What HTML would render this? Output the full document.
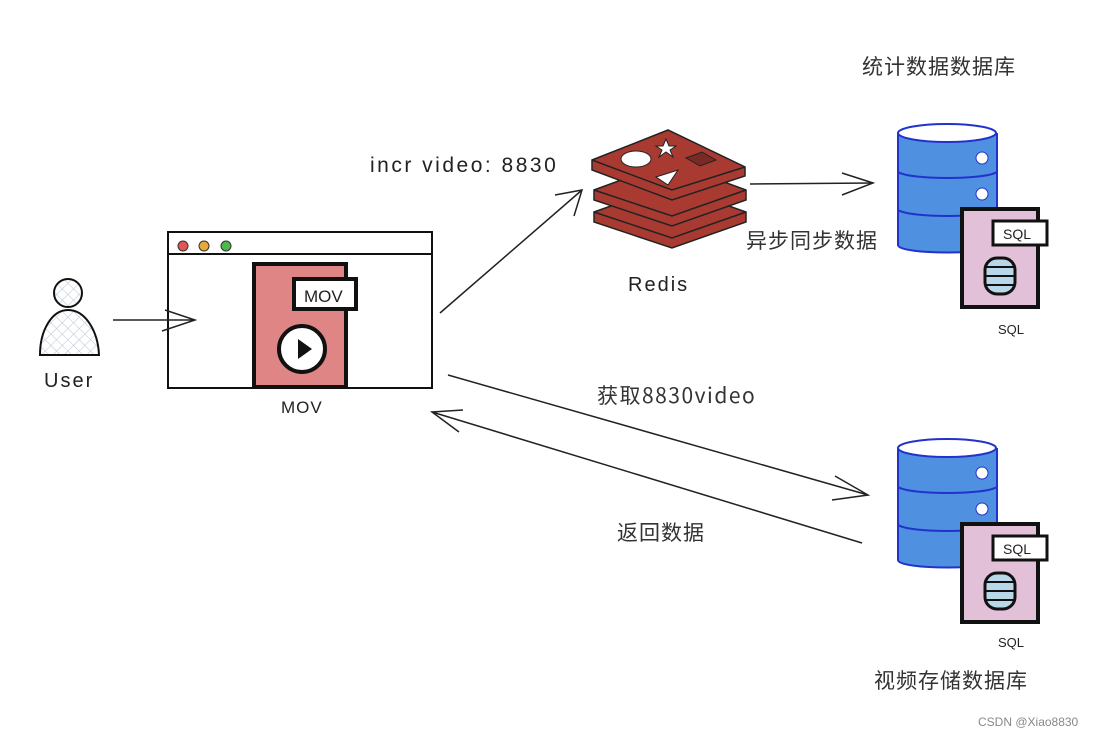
<!DOCTYPE html>
<html><head><meta charset="utf-8"><style>
html,body{margin:0;padding:0;background:#fff;}
svg{display:block;}
.h{font-family:"Liberation Sans","Noto Sans CJK SC",sans-serif;fill:#222;}
.c{font-family:"Noto Sans CJK SC","WenQuanYi Zen Hei",sans-serif;fill:#333;}
</style></head><body>
<svg width="1104" height="736" viewBox="0 0 1104 736" xmlns="http://www.w3.org/2000/svg">
<defs>
<pattern id="hatch" width="8" height="8" patternUnits="userSpaceOnUse" patternTransform="rotate(45)">
<rect width="8" height="8" fill="#fff"/><line x1="0" y1="0" x2="0" y2="8" stroke="#b8c4d4" stroke-width="1"/><line x1="0" y1="0" x2="8" y2="0" stroke="#b8c4d4" stroke-width="1"/>
</pattern>
</defs>
<rect width="1104" height="736" fill="#fff"/>

<!-- User -->
<path d="M40,355 C40,330 52,310 68,310 C86,310 98,332 99,355 Z" fill="url(#hatch)" stroke="#111" stroke-width="2"/>
<circle cx="68" cy="293" r="14" fill="url(#hatch)" stroke="#111" stroke-width="2"/>
<text x="44" y="387" class="h" font-size="20" letter-spacing="2">User</text>

<!-- Browser -->
<rect x="168" y="232" width="264" height="156" fill="#fff" stroke="#111" stroke-width="2"/>
<line x1="168" y1="254" x2="432" y2="254" stroke="#111" stroke-width="2"/>
<circle cx="183" cy="246" r="5" fill="#e05555" stroke="#333"/>
<circle cx="204" cy="246" r="5" fill="#e8a83a" stroke="#333"/>
<circle cx="226" cy="246" r="5" fill="#4cb84c" stroke="#333"/>
<rect x="254" y="264" width="92" height="123" fill="#e08585" stroke="#111" stroke-width="4"/>
<rect x="294" y="279" width="62" height="30" fill="#fff" stroke="#111" stroke-width="4"/>
<text x="304" y="302" class="h" font-size="17">MOV</text>
<circle cx="302" cy="349" r="23" fill="#fff" stroke="#111" stroke-width="4"/>
<path d="M298,339 L312,349 L298,359 Z" fill="#111"/>
<text x="281" y="413" class="h" font-size="17" letter-spacing="1">MOV</text>

<!-- arrow user->browser -->
<g stroke="#222" stroke-width="1.5" fill="none">
<line x1="113" y1="320" x2="195" y2="320"/>
<path d="M165,310 L195,320 L162,331"/>
</g>

<!-- browser->redis -->
<g stroke="#222" stroke-width="1.5" fill="none">
<line x1="440" y1="313" x2="582" y2="190"/>
<path d="M555,195 L582,190 L574,216"/>
</g>
<text x="370" y="172" class="h" font-size="21" letter-spacing="2.5">incr video: 8830</text>

<!-- Redis -->
<g stroke="#222" stroke-width="1.5">
<path d="M594,212 L670,185 L746,212 L746,222 L672,248 L594,222 Z" fill="#a83a32"/>
<path d="M594,212 L672,238 L746,212" fill="none"/>
<path d="M594,190 L670,162 L746,190 L746,200 L672,226 L594,200 Z" fill="#a83a32"/>
<path d="M594,190 L672,216 L746,190" fill="none"/>
<path d="M592,160 L668,130 L745,167 L745,176 L672,200 L592,170 Z" fill="#a83a32"/>
<path d="M592,160 L672,190 L745,167" fill="none"/>
</g>
<ellipse cx="636" cy="159" rx="15" ry="8" fill="#fff" stroke="#222"/>
<path d="M656,177 L678,170 L668,185 Z" fill="#fff" stroke="#222"/>
<path d="M686,158 L702,152 L716,160 L700,166 Z" fill="#7a2a24" stroke="#222"/>
<path d="M666,139 L669,146 L676,146 L670,150 L673,157 L666,152 L659,157 L662,150 L656,146 L663,146 Z" fill="#fff" stroke="#222"/>
<text x="628" y="291" class="h" font-size="20" letter-spacing="2">Redis</text>

<!-- redis->db -->
<g stroke="#222" stroke-width="1.5" fill="none">
<line x1="750" y1="184" x2="873" y2="183"/>
<path d="M842,173 L873,183 L842,195"/>
</g>
<text x="746" y="248" class="c" font-size="21" letter-spacing="1">异步同步数据</text>

<!-- DB1 -->
<g>
<path d="M898,133 L898,245 C898,255 997,255 997,245 L997,133" fill="#5090e0" stroke="#2233cc" stroke-width="2"/>
<ellipse cx="947" cy="133" rx="49" ry="9" fill="#fff" stroke="#2233cc" stroke-width="2"/>
<path d="M898,172 C910,180 985,180 997,172 M898,210 C910,218 985,218 997,210" fill="none" stroke="#2233cc" stroke-width="2"/>
<circle cx="982" cy="158" r="6" fill="#fff" stroke="#2233cc"/>
<circle cx="982" cy="194" r="6" fill="#fff" stroke="#2233cc"/>
<rect x="962" y="209" width="76" height="98" fill="#e2c0d8" stroke="#111" stroke-width="4"/>
<rect x="993" y="221" width="54" height="24" fill="#fff" stroke="#111" stroke-width="3"/>
<text x="1003" y="239" class="h" font-size="14">SQL</text>
<rect x="985" y="258" width="30" height="36" rx="12" fill="#b8d8ea" stroke="#111" stroke-width="3"/>
<path d="M986,267 H1014 M986,276 H1014 M986,285 H1014" stroke="#111" stroke-width="2"/>
<text x="998" y="334" class="h" font-size="13">SQL</text>
</g>
<text x="862" y="74" class="c" font-size="21" letter-spacing="1">统计数据数据库</text>

<!-- DB2 -->
<g transform="translate(0,315)">
<path d="M898,133 L898,245 C898,255 997,255 997,245 L997,133" fill="#5090e0" stroke="#2233cc" stroke-width="2"/>
<ellipse cx="947" cy="133" rx="49" ry="9" fill="#fff" stroke="#2233cc" stroke-width="2"/>
<path d="M898,172 C910,180 985,180 997,172 M898,210 C910,218 985,218 997,210" fill="none" stroke="#2233cc" stroke-width="2"/>
<circle cx="982" cy="158" r="6" fill="#fff" stroke="#2233cc"/>
<circle cx="982" cy="194" r="6" fill="#fff" stroke="#2233cc"/>
<rect x="962" y="209" width="76" height="98" fill="#e2c0d8" stroke="#111" stroke-width="4"/>
<rect x="993" y="221" width="54" height="24" fill="#fff" stroke="#111" stroke-width="3"/>
<text x="1003" y="239" class="h" font-size="14">SQL</text>
<rect x="985" y="258" width="30" height="36" rx="12" fill="#b8d8ea" stroke="#111" stroke-width="3"/>
<path d="M986,267 H1014 M986,276 H1014 M986,285 H1014" stroke="#111" stroke-width="2"/>
<text x="998" y="332" class="h" font-size="13">SQL</text>
</g>
<text x="874" y="688" class="c" font-size="21" letter-spacing="1">视频存储数据库</text>

<!-- browser <-> db2 -->
<g stroke="#222" stroke-width="1.5" fill="none">
<line x1="448" y1="375" x2="868" y2="495"/>
<path d="M835,476 L868,495 L832,500"/>
<line x1="862" y1="543" x2="432" y2="412"/>
<path d="M463,410 L432,412 L459,432"/>
</g>
<text x="597" y="403" class="c" font-size="21" letter-spacing="1.5">获取8830video</text>
<text x="617" y="540" class="c" font-size="21" letter-spacing="1">返回数据</text>

<text x="978" y="726" font-family="Liberation Sans,sans-serif" font-size="12" fill="#888">CSDN @Xiao8830</text>
</svg>
</body></html>
